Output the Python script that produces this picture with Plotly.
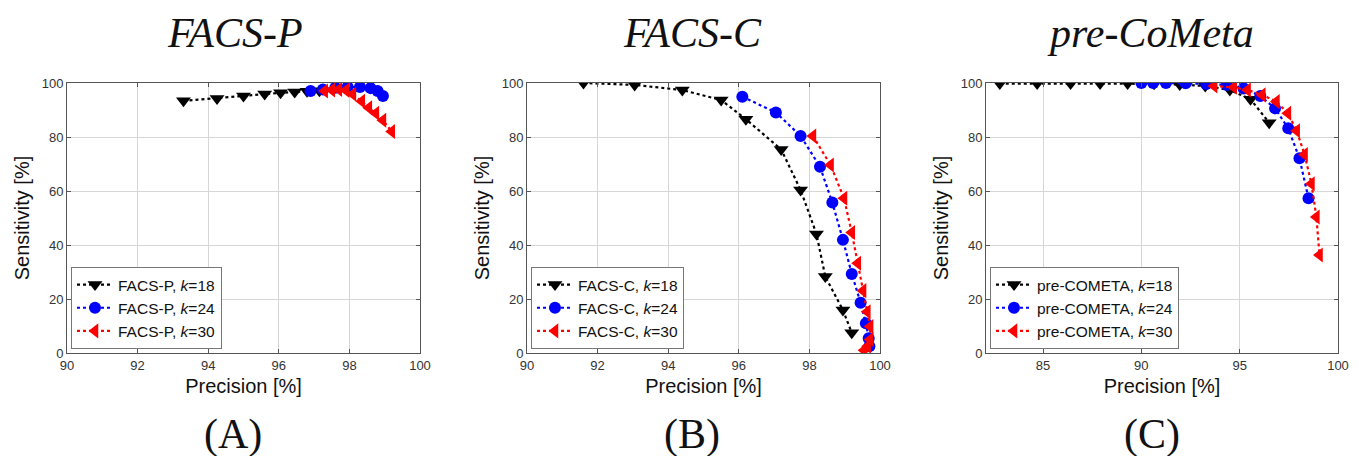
import plotly.graph_objects as go

W, H = 1359, 456

# ---------------- data ----------------
a_k18_p = [93.3, 94.25, 95.0, 95.6, 96.05, 96.45, 96.8, 97.15]
a_k18_s = [93.4, 94.3, 95.2, 95.9, 96.4, 96.7, 96.9, 97.1]
a_k24_p = [96.9, 97.25, 97.6, 97.95, 98.3, 98.6, 98.8, 98.95]
a_k24_s = [97.0, 97.6, 98.2, 98.5, 98.5, 98.1, 97.0, 95.2]
a_k30_p = [97.3, 97.5, 97.7, 97.9, 98.1, 98.35, 98.55, 98.75, 98.95, 99.2]
a_k30_s = [97.0, 97.4, 97.6, 97.3, 95.8, 93.2, 90.8, 88.8, 86.2, 82.0]

b_k18_p = [91.6, 93.05, 94.4, 95.5, 96.2, 97.2, 97.75, 98.2, 98.45, 98.95, 99.2]
b_k18_s = [100.0, 99.3, 97.4, 93.7, 86.6, 75.4, 60.4, 44.1, 28.3, 15.9, 7.5]
b_k24_p = [96.1, 97.05, 97.75, 98.3, 98.65, 98.95, 99.2, 99.45, 99.6, 99.68, 99.7]
b_k24_s = [94.9, 89.1, 80.4, 69.0, 55.7, 41.9, 29.3, 18.6, 11.0, 5.5, 2.5]
b_k30_p = [98.1, 98.6, 98.98, 99.2, 99.37, 99.52, 99.64, 99.72, 99.72, 99.65, 99.55]
b_k30_s = [80.4, 69.6, 57.3, 44.6, 33.2, 23.1, 15.3, 9.8, 5.0, 2.5, 1.0]

c_k18_p = [82.8, 84.7, 86.4, 87.9, 89.3, 90.65, 91.95, 93.25, 94.5, 95.55, 96.5]
c_k18_s = [99.8, 99.8, 99.8, 99.8, 99.8, 99.7, 99.4, 98.9, 97.4, 94.0, 85.3]
c_k24_p = [90.0, 90.6, 91.25, 92.25, 93.3, 94.35, 95.2, 96.05, 96.8, 97.47, 98.04, 98.5]
c_k24_s = [100.0, 100.0, 100.0, 99.9, 99.6, 99.3, 98.0, 95.2, 90.6, 83.2, 72.1, 57.3]
c_k30_p = [93.7, 94.7, 95.4, 96.15, 96.87, 97.45, 97.9, 98.3, 98.65, 98.9, 99.06]
c_k30_s = [98.9, 98.4, 97.4, 95.6, 93.1, 88.8, 82.3, 73.5, 62.7, 50.4, 36.3]

panel_titles = ["FACS-P", "FACS-C", "pre-CoMeta"]
panel_labels = ["(A)", "(B)", "(C)"]
series_names = ["FACS-P", "FACS-C", "pre-COMETA"]
k_values = [18, 24, 30]
x_ranges = [[90, 100], [90, 100], [82.1, 100]]
x_ticks = [[90, 92, 94, 96, 98, 100], [90, 92, 94, 96, 98, 100], [85, 90, 95, 100]]
y_ticks = [0, 20, 40, 60, 80, 100]

panels = [
    [(a_k18_p, a_k18_s), (a_k24_p, a_k24_s), (a_k30_p, a_k30_s)],
    [(b_k18_p, b_k18_s), (b_k24_p, b_k24_s), (b_k30_p, b_k30_s)],
    [(c_k18_p, c_k18_s), (c_k24_p, c_k24_s), (c_k30_p, c_k30_s)],
]

colors = ["#000000", "#0000ff", "#ff0000"]
symbols = ["triangle-down", "circle", "triangle-left"]
msizes = [13, 12, 13]

# pixel geometry (screen coordinates)
x_px = [(67, 420), (527, 880), (986, 1338)]
y_top, y_bot = 83, 353
title_cx = [235, 692, 1150]
label_cx = [233, 692, 1152]


def fx(px):
    return px / W


def fy(py):
    return 1 - py / H


fig = go.Figure()
layout = dict(
    width=W, height=H, margin=dict(l=0, r=0, t=0, b=0, autoexpand=False),
    paper_bgcolor="white", plot_bgcolor="white", showlegend=True,
    font=dict(family="Liberation Sans, Arial", color="#222"),
)
annotations = []

for i in range(3):
    sfx = "" if i == 0 else str(i + 1)
    xa, ya = "x" + sfx, "y" + sfx
    leg = "legend" + sfx
    for j in range(3):
        px, ps = panels[i][j]
        fig.add_trace(go.Scatter(
            x=px, y=ps, mode="lines+markers", xaxis=xa, yaxis=ya, legend=leg,
            name=f"{series_names[i]}, <i>k</i>={k_values[j]}",
            line=dict(color=colors[j], width=2.2, dash="dot"),
            marker=dict(symbol=symbols[j], size=msizes[j], color=colors[j],
                        line=dict(width=0)),
        ))
    x0, x1 = x_px[i]
    dom_x = [fx(x0), fx(x1)]
    dom_y = [fy(y_bot), fy(y_top)]
    axcommon = dict(showline=True, linecolor="#555", linewidth=1, mirror="ticks",
                    ticks="inside", ticklen=4, tickcolor="#555", automargin=False,
                    showgrid=True, gridcolor="#d6d6d6", gridwidth=1,
                    zeroline=False, tickfont=dict(size=13, color="#333",
                                                   family="Liberation Sans, Arial"))
    layout["xaxis" + sfx] = dict(axcommon, domain=dom_x, range=x_ranges[i],
                                 tickvals=x_ticks[i], anchor=ya,
                                 title=dict(text="Precision [%]", standoff=7,
                                            font=dict(size=20, color="#111")))
    layout["yaxis" + sfx] = dict(axcommon, domain=dom_y, range=[0, 100],
                                 tickvals=y_ticks, anchor=xa,
                                 title=dict(text="Sensitivity [%]", standoff=6,
                                            font=dict(size=20, color="#111")))
    layout[leg] = dict(x=fx(x0 + 4), y=fy(y_bot - 4), xanchor="left",
                       yanchor="bottom", bgcolor="white", bordercolor="#777",
                       borderwidth=1, font=dict(size=15.5, color="#111",
                                                family="Liberation Sans, Arial"),
                       tracegroupgap=0, itemwidth=36)
    annotations.append(dict(text=f"<i>{panel_titles[i]}</i>", x=fx(title_cx[i]), y=fy(33),
                            xref="paper", yref="paper", showarrow=False,
                            xanchor="center", yanchor="middle",
                            font=dict(size=42, family="Liberation Serif", color="#111")))
    annotations.append(dict(text=panel_labels[i], x=fx(label_cx[i]), y=fy(434),
                            xref="paper", yref="paper", showarrow=False,
                            xanchor="center", yanchor="middle",
                            font=dict(size=42, family="Liberation Serif", color="#111")))

layout["annotations"] = annotations
fig.update_layout(**layout)
fig.write_html(
    "out.html",
    config={"displayModeBar": False},
    post_script="document.body.style.margin='0';document.body.style.overflow='hidden';",
)
